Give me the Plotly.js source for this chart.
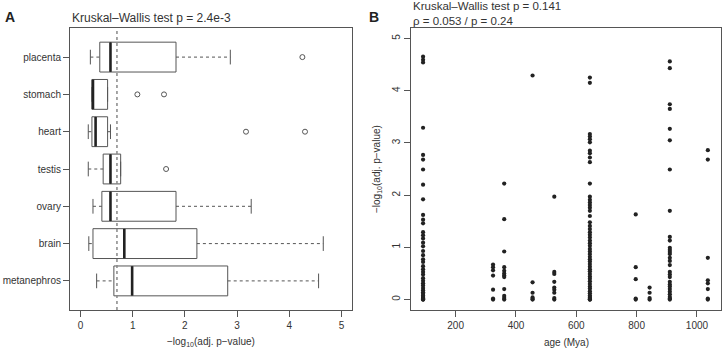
<!DOCTYPE html>
<html>
<head>
<meta charset="utf-8">
<script src="https://cdn.plot.ly/plotly-3.0.1.min.js"></script>
<style>
  html, body { margin: 0; padding: 0; background: #fff; }
  #chart { width: 722px; height: 348px; }
</style>
</head>
<body>
<div id="chart"></div>
<script>
// ---- Panel A: per-tissue box statistics of -log10(adj. p-value) ----
const tissues   = ['metanephros', 'brain', 'ovary', 'testis', 'heart', 'stomach', 'placenta'];
const whiskerLo = [0.31, 0.16, 0.24, 0.15, 0.15, 0.22, 0.19];
const q1        = [0.64, 0.24, 0.41, 0.435, 0.22, 0.22, 0.37];
const medians   = [0.99, 0.84, 0.575, 0.575, 0.29, 0.24, 0.575];
const q3        = [2.82, 2.23, 1.83, 0.77, 0.52, 0.52, 1.83];
const whiskerHi = [4.56, 4.65, 3.27, 0.77, 0.575, 0.52, 2.87];

// outliers drawn as open circles
const outlierTissue = ['placenta', 'stomach', 'stomach', 'heart', 'heart', 'testis'];
const outlierValue  = [4.25, 1.09, 1.60, 3.17, 4.30, 1.64];

// significance threshold: adj. p = 0.2
const thresholdP = 0.2;

// ---- Panel B: -log10(adj. p-value) by gene age ----
const ages = [92, 324, 361, 455, 527, 645, 797, 843, 910, 1036];
const pvAge92   = [4.65, 4.59, 4.54, 3.29, 2.77, 2.68, 2.49, 2.20, 1.92, 1.62, 1.53, 1.46, 1.29, 1.23, 1.17, 1.09, 1.02, 0.93, 0.85, 0.77, 0.72, 0.64, 0.58, 0.53, 0.48, 0.41, 0.36, 0.31, 0.27, 0.22, 0.18, 0.14, 0.11, 0.08, 0.05, 0.03, 0.02, 0.01, 0.0, 0.0];
const pvAge324  = [0.67, 0.62, 0.56, 0.46, 0.19, 0.02, 0.0];
const pvAge361  = [2.22, 1.54, 0.92, 0.62, 0.55, 0.50, 0.46, 0.43, 0.20, 0.07, 0.03, 0.0];
const pvAge455  = [4.29, 0.33, 0.13, 0.04, 0.01, 0.0];
const pvAge527  = [1.97, 0.53, 0.49, 0.34, 0.23, 0.19, 0.13, 0.03, 0.0];
const pvAge645  = [4.25, 4.15, 3.17, 3.12, 3.07, 3.01, 2.85, 2.80, 2.72, 2.63, 2.22, 1.97, 1.91, 1.86, 1.81, 1.76, 1.70, 1.60, 1.48, 1.41, 1.35, 1.29, 1.24, 1.19, 1.13, 1.08, 1.03, 0.97, 0.92, 0.87, 0.82, 0.77, 0.73, 0.68, 0.63, 0.58, 0.54, 0.49, 0.44, 0.40, 0.35, 0.30, 0.25, 0.21, 0.16, 0.12, 0.08, 0.05, 0.03, 0.01, 0.0, 0.0];
const pvAge797  = [1.63, 0.62, 0.39, 0.02, 0.0];
const pvAge843  = [0.23, 0.13, 0.03, 0.0];
const pvAge910  = [4.56, 4.43, 3.74, 3.65, 3.27, 3.05, 2.49, 1.70, 1.20, 1.13, 0.99, 0.95, 0.91, 0.87, 0.80, 0.74, 0.66, 0.53, 0.48, 0.43, 0.34, 0.29, 0.25, 0.20, 0.15, 0.10, 0.05, 0.02, 0.0];
const pvAge1036 = [2.86, 2.68, 0.80, 0.37, 0.31, 0.20, 0.02, 0.0];
const pvByAge = [pvAge92, pvAge324, pvAge361, pvAge455, pvAge527, pvAge645, pvAge797, pvAge843, pvAge910, pvAge1036];

// ---- styling ----
const FONT = 'Liberation Sans, Arial, Helvetica, sans-serif';
const INK = '#555555';
const TXT = '#333333';
const W = 722, H = 348;
const px = v => v / W;
const py = v => 1 - v / H;

// whisker segments (dashed) and caps
const wx = [], wy = [], capX = [], capY = [];
tissues.forEach((t, i) => {
  wx.push(whiskerLo[i], q1[i], null, q3[i], whiskerHi[i], null);
  wy.push(t, t, null, t, t, null);
  capX.push(whiskerLo[i], whiskerHi[i]);
  capY.push(t, t);
});

// flatten age groups into points
const ageX = [], ageY = [];
ages.forEach((a, i) => pvByAge[i].forEach(v => { ageX.push(a); ageY.push(v); }));

const traces = [
  {
    type: 'box', orientation: 'h', xaxis: 'x', yaxis: 'y',
    y: tissues, q1: q1, median: medians, q3: q3,
    lowerfence: q1, upperfence: q3,
    width: 0.8, whiskerwidth: 0, boxpoints: false,
    fillcolor: 'rgba(255,255,255,0)',
    line: { color: INK, width: 1 },
    hoverinfo: 'skip', showlegend: false
  },
  {
    type: 'scatter', mode: 'lines', xaxis: 'x', yaxis: 'y',
    x: wx, y: wy, line: { color: INK, width: 1, dash: '3px,3px' },
    hoverinfo: 'skip', showlegend: false
  },
  {
    type: 'scatter', mode: 'markers', xaxis: 'x', yaxis: 'y',
    x: capX, y: capY,
    marker: { symbol: 'line-ns-open', size: 10.5, color: INK, line: { color: INK, width: 1 } },
    hoverinfo: 'skip', showlegend: false
  },
  {
    type: 'scatter', mode: 'markers', xaxis: 'x', yaxis: 'y',
    x: medians, y: tissues,
    marker: { symbol: 'line-ns-open', size: 21, color: '#222', line: { color: '#222', width: 2.6 } },
    hoverinfo: 'skip', showlegend: false
  },
  {
    type: 'scatter', mode: 'markers', xaxis: 'x', yaxis: 'y',
    x: outlierValue, y: outlierTissue,
    marker: { symbol: 'circle-open', size: 5, color: INK, line: { color: INK, width: 1 } },
    hoverinfo: 'skip', showlegend: false
  },
  {
    type: 'scatter', mode: 'markers', xaxis: 'x2', yaxis: 'y2',
    x: ageX, y: ageY,
    marker: { symbol: 'circle', size: 4.2, color: '#222' },
    hoverinfo: 'skip', showlegend: false
  }
];

const axisCommon = {
  showgrid: false, zeroline: false, showline: true, mirror: true,
  linecolor: INK, linewidth: 1, ticks: 'outside', ticklen: 6,
  tickcolor: INK, tickwidth: 1,
  tickfont: { family: FONT, size: 10, color: TXT },
  automargin: false, fixedrange: true
};

const yDom = [py(310), py(28)];

const layout = {
  width: W, height: H,
  margin: { l: 0, r: 0, t: 0, b: 0 },
  paper_bgcolor: '#fff', plot_bgcolor: '#fff',
  font: { family: FONT, color: TXT },
  showlegend: false,
  xaxis: Object.assign({}, axisCommon, {
    domain: [px(70), px(352)], anchor: 'y',
    range: [-0.2, 5.2], tickvals: [0, 1, 2, 3, 4, 5]
  }),
  yaxis: Object.assign({}, axisCommon, {
    domain: yDom, anchor: 'x', type: 'category',
    categoryorder: 'array', categoryarray: tissues,
    range: [-0.78, 6.78]
  }),
  xaxis2: Object.assign({}, axisCommon, {
    domain: [px(411), px(720.5)], anchor: 'y2',
    range: [52, 1078], tickvals: [200, 400, 600, 800, 1000]
  }),
  yaxis2: Object.assign({}, axisCommon, {
    domain: yDom, anchor: 'x2',
    range: [-0.2, 5.2], tickvals: [0, 1, 2, 3, 4, 5], tickangle: -90
  }),
  shapes: [
    {
      type: 'line', xref: 'x', yref: 'y domain',
      x0: -Math.log10(thresholdP), x1: -Math.log10(thresholdP), y0: 0, y1: 1,
      line: { color: '#888', width: 1.5, dash: 'dot' }
    }
  ],
  annotations: [
    { text: '<b>A</b>', xref: 'paper', yref: 'paper', x: px(3), y: py(17),
      xanchor: 'left', yanchor: 'middle', showarrow: false,
      font: { family: FONT, size: 14, color: '#222' } },
    { text: 'Kruskal\u2013Wallis test p = 2.4e-3', xref: 'paper', yref: 'paper',
      x: px(70), y: py(18), xanchor: 'left', yanchor: 'middle', showarrow: false,
      font: { family: FONT, size: 12, color: TXT } },
    { text: '\u2212log<sub>10</sub>(adj. p\u2212value)', xref: 'paper', yref: 'paper',
      x: px(211), y: py(342), xanchor: 'center', yanchor: 'middle', showarrow: false,
      font: { family: FONT, size: 10, color: TXT } },
    { text: '<b>B</b>', xref: 'paper', yref: 'paper', x: px(367), y: py(17),
      xanchor: 'left', yanchor: 'middle', showarrow: false,
      font: { family: FONT, size: 14, color: '#222' } },
    { text: 'Kruskal\u2013Wallis test p = 0.141', xref: 'paper', yref: 'paper',
      x: px(411), y: py(6.5), xanchor: 'left', yanchor: 'middle', showarrow: false,
      font: { family: FONT, size: 11.5, color: TXT } },
    { text: '\u03c1 = 0.053 / p = 0.24', xref: 'paper', yref: 'paper',
      x: px(411), y: py(20.5), xanchor: 'left', yanchor: 'middle', showarrow: false,
      font: { family: FONT, size: 11.5, color: TXT } },
    { text: 'age (Mya)', xref: 'paper', yref: 'paper',
      x: px(566), y: py(342), xanchor: 'center', yanchor: 'middle', showarrow: false,
      font: { family: FONT, size: 10, color: TXT } },
    { text: '\u2212log<sub>10</sub>(adj. p\u2212value)', xref: 'paper', yref: 'paper',
      x: px(377), y: py(169), xanchor: 'center', yanchor: 'middle', showarrow: false,
      textangle: -90, font: { family: FONT, size: 10, color: TXT } }
  ]
};

Plotly.newPlot('chart', traces, layout, { staticPlot: true, displayModeBar: false });
</script>
</body>
</html>
